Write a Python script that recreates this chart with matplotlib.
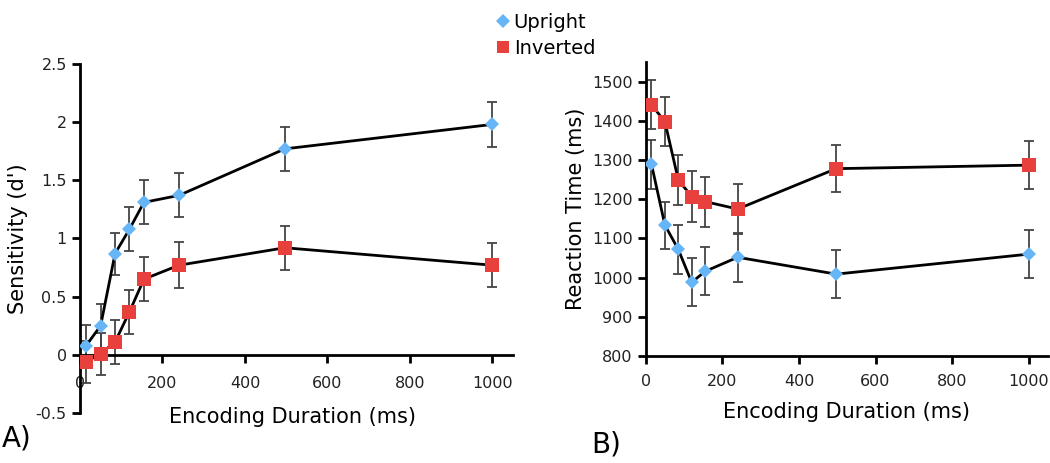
import matplotlib
matplotlib.use("Agg")
import matplotlib.pyplot as plt
from matplotlib.lines import Line2D

# encoding durations (ms)
durations = [15, 50, 85, 120, 155, 240, 497, 1000]

# panel A: sensitivity (d')
dprime_upright = [0.08, 0.25, 0.87, 1.08, 1.31, 1.37, 1.77, 1.98]
dprime_upright_err = [0.18, 0.19, 0.18, 0.19, 0.19, 0.19, 0.19, 0.19]
dprime_inverted = [-0.06, 0.01, 0.11, 0.37, 0.65, 0.77, 0.92, 0.77]
dprime_inverted_err = [0.18, 0.18, 0.19, 0.19, 0.19, 0.2, 0.19, 0.19]

# panel B: reaction time (ms)
rt_upright = [1289, 1134, 1072, 988, 1016, 1052, 1009, 1060]
rt_upright_err = [62, 60, 62, 61, 61, 62, 61, 61]
rt_inverted = [1441, 1398, 1249, 1207, 1194, 1175, 1278, 1287]
rt_inverted_err = [62, 62, 63, 64, 64, 64, 60, 62]

BLUE = "#66b5f7"
RED = "#e8403d"
ERR = "#444444"

plt.rcParams["font.family"] = ["DejaVu Sans"]

fig = plt.figure(figsize=(10.5, 4.63), dpi=100)
ax_a = fig.add_axes([0.0762, 0.108, 0.4124, 0.754])
ax_b = fig.add_axes([0.615, 0.231, 0.383, 0.635])


def draw_series(ax, x, y, err, color, marker, size):
    ax.errorbar(x, y, yerr=err, fmt="none", ecolor=ERR, elinewidth=1.3,
                capsize=3.8, capthick=1.3, zorder=2)
    ax.plot(x, y, color="black", lw=2, zorder=3)
    ax.plot(x, y, linestyle="none", marker=marker, ms=size, color=color,
            markeredgewidth=0, zorder=4)


def style_axes(ax):
    for side in ["top", "right"]:
        ax.spines[side].set_visible(False)
    for side in ["left", "bottom"]:
        ax.spines[side].set_linewidth(2)
    ax.tick_params(axis="both", labelsize=11.5, width=2, length=6,
                   colors="black", labelcolor="#222222")
    ax.set_xticks([0, 200, 400, 600, 800, 1000])
    ax.set_xlim(0, 1050)


# panel A
draw_series(ax_a, durations, dprime_upright, dprime_upright_err, BLUE, "D", 7.5)
draw_series(ax_a, durations, dprime_inverted, dprime_inverted_err, RED, "s", 10)
style_axes(ax_a)
ax_a.tick_params(axis="x", pad=9)
ax_a.spines["bottom"].set_position(("data", 0))
ax_a.set_ylim(-0.5, 2.5)
ax_a.set_yticks([-0.5, 0, 0.5, 1, 1.5, 2, 2.5])
ax_a.set_yticklabels(["-0.5", "0", "0.5", "1", "1.5", "2", "2.5"])
ax_a.set_ylabel("Sensitivity (d')", fontsize=15)
ax_a.yaxis.set_label_coords(-0.12, 0.5)
ax_a.set_xlabel("Encoding Duration (ms)", fontsize=15)
ax_a.xaxis.set_label_coords(0.49, -0.012)
ax_a.xaxis.label.set_va("center")

# panel B
draw_series(ax_b, durations, rt_upright, rt_upright_err, BLUE, "D", 7.5)
draw_series(ax_b, durations, rt_inverted, rt_inverted_err, RED, "s", 10)
style_axes(ax_b)
ax_b.tick_params(axis="x", pad=7)
ax_b.set_ylim(800, 1550)
ax_b.set_yticks(range(800, 1501, 100))
ax_b.set_ylabel("Reaction Time (ms)", fontsize=15)
ax_b.set_xlabel("Encoding Duration (ms)", fontsize=15, labelpad=9)

# panel letters
fig.text(0.002, 0.035, "A)", fontsize=20)
fig.text(0.563, 0.022, "B)", fontsize=20)

# shared legend at top
handles = [
    Line2D([], [], linestyle="none", marker="D", ms=7, color=BLUE, markeredgewidth=0),
    Line2D([], [], linestyle="none", marker="s", ms=9, color=RED, markeredgewidth=0),
]
fig.legend(handles, ["Upright", "Inverted"], loc="upper left",
           bbox_to_anchor=(0.455, 1.01), frameon=False, fontsize=14,
           handlelength=0.8, handletextpad=0.15, labelspacing=0.35)

fig.savefig("out.png", dpi=100)
